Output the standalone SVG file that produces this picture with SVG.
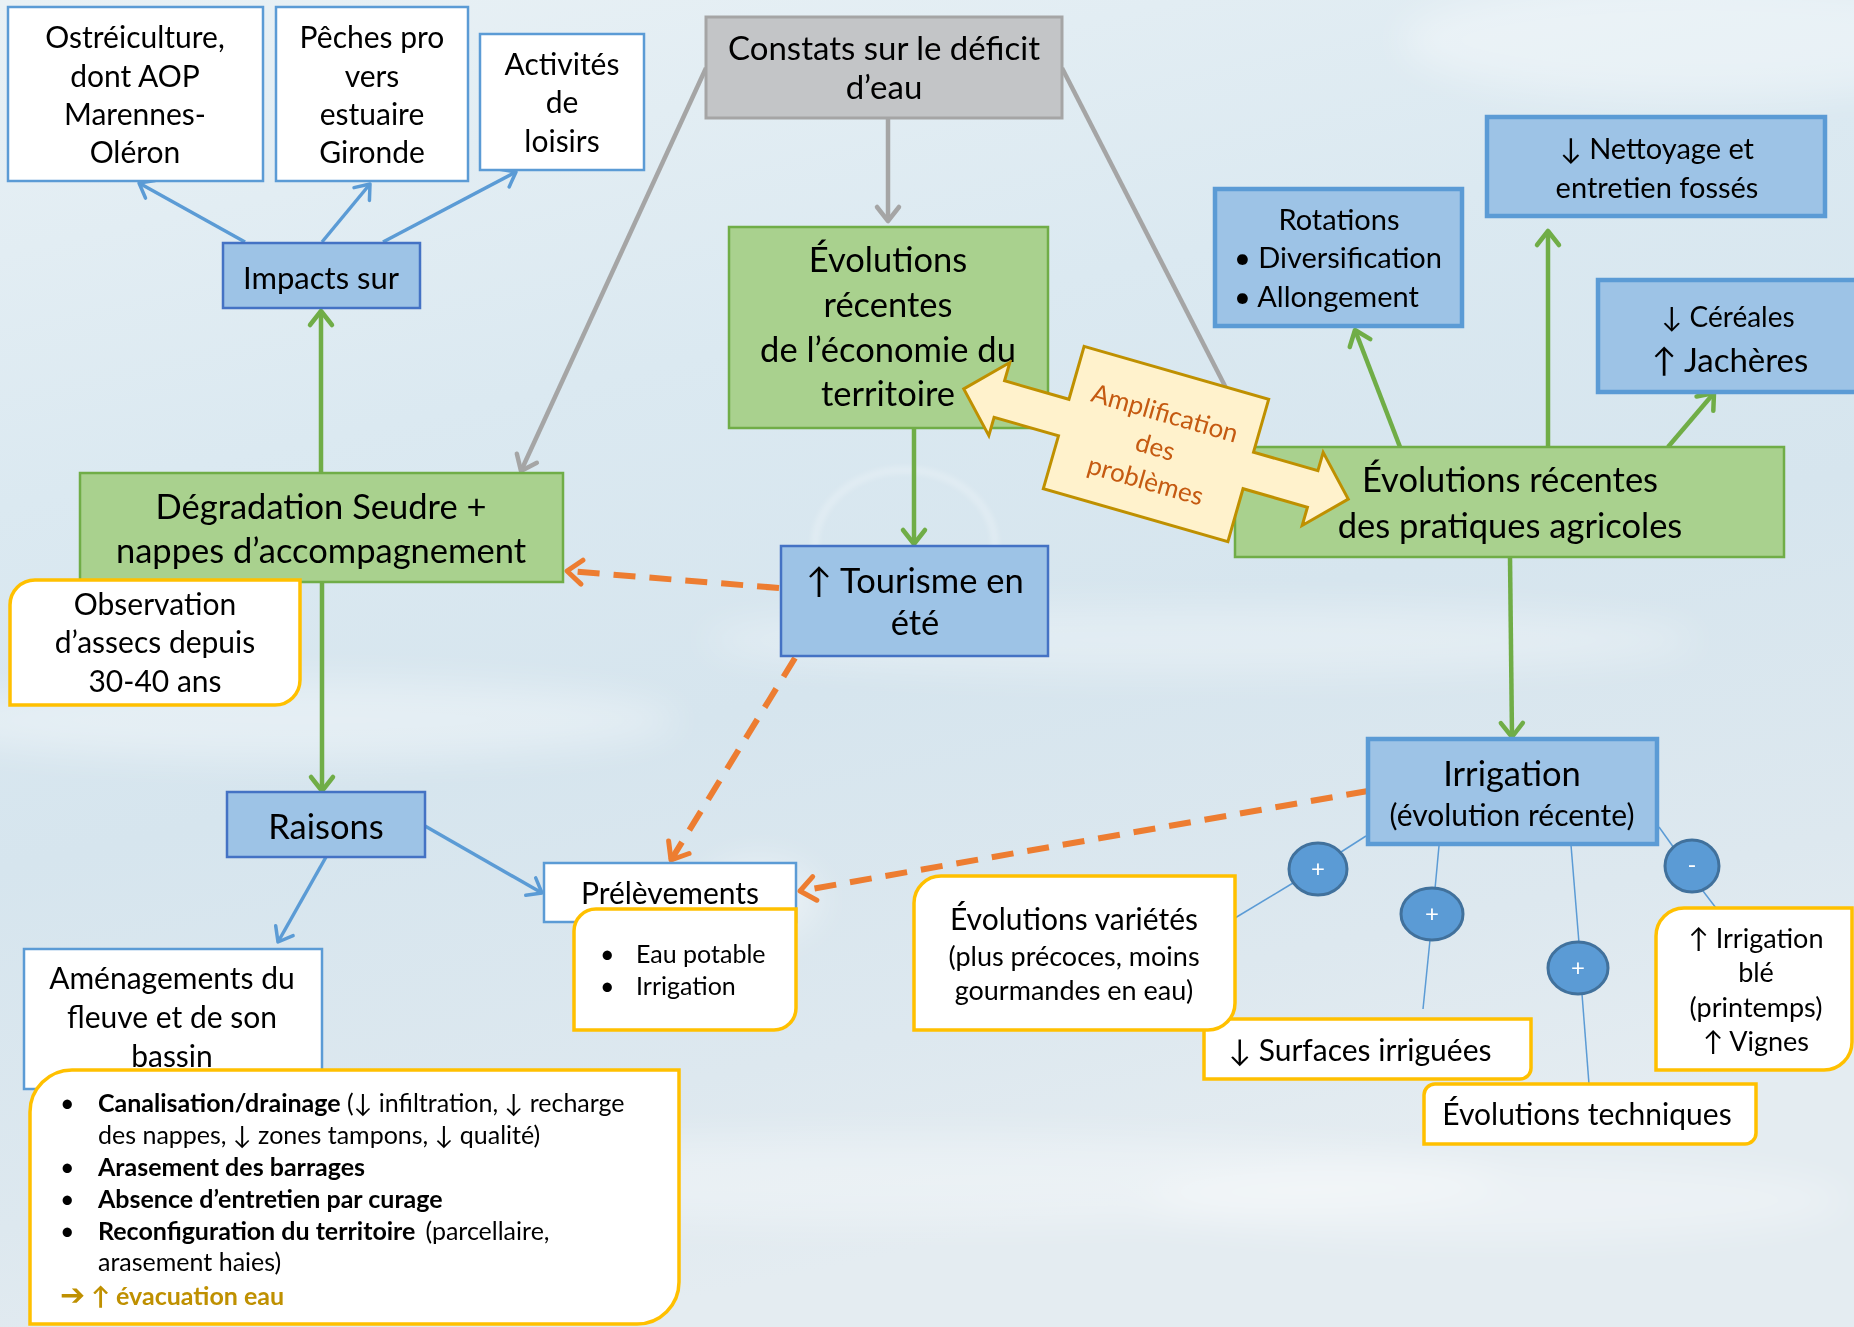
<svg xmlns="http://www.w3.org/2000/svg" width="1854" height="1327" viewBox="0 0 1854 1327">
<defs>
<linearGradient id="bg" x1="0" y1="0" x2="0.3" y2="1">
<stop offset="0" stop-color="#e9f1f5"/>
<stop offset="0.35" stop-color="#dbe9f1"/>
<stop offset="0.6" stop-color="#d6e5ee"/>
<stop offset="0.85" stop-color="#dde8ef"/>
<stop offset="1" stop-color="#e4ecf1"/>
</linearGradient>
<filter id="blur" x="-50%" y="-50%" width="200%" height="200%"><feGaussianBlur stdDeviation="18"/></filter>
<filter id="blur2" x="-50%" y="-50%" width="200%" height="200%"><feGaussianBlur stdDeviation="3"/></filter>
<marker id="ag" viewBox="-20 -16 24 32" refX="0" refY="0" markerWidth="24" markerHeight="32" markerUnits="userSpaceOnUse" orient="auto"><path d="M-14,-11 L0,0 L-14,11" fill="none" stroke="#70ad47" stroke-width="4.5" stroke-linecap="round" stroke-linejoin="round"/></marker>
<marker id="ab" viewBox="-20 -16 24 32" refX="0" refY="0" markerWidth="24" markerHeight="32" markerUnits="userSpaceOnUse" orient="auto"><path d="M-13,-10 L0,0 L-13,10" fill="none" stroke="#5b9bd5" stroke-width="3.5" stroke-linecap="round" stroke-linejoin="round"/></marker>
<marker id="ay" viewBox="-20 -16 24 32" refX="0" refY="0" markerWidth="24" markerHeight="32" markerUnits="userSpaceOnUse" orient="auto"><path d="M-14,-11 L0,0 L-14,11" fill="none" stroke="#a5a5a5" stroke-width="4.5" stroke-linecap="round" stroke-linejoin="round"/></marker>
<marker id="ao" viewBox="-20 -16 24 32" refX="0" refY="0" markerWidth="24" markerHeight="32" markerUnits="userSpaceOnUse" orient="auto"><path d="M-15,-12 L0,0 L-15,12" fill="none" stroke="#ed7d31" stroke-width="5" stroke-linecap="round" stroke-linejoin="round"/></marker>
</defs>
<style>
.t{font-family:Lato,"DejaVu Sans",sans-serif;fill:#000;text-anchor:middle}
.l{text-anchor:start}
.f25{font-size:25px}.f26{font-size:26px}.f27{font-size:27px}.f28{font-size:28px}.f29{font-size:29px}.f30{font-size:30px}.f31{font-size:31px}.f33{font-size:33px}.f34{font-size:34.5px}
.bA{fill:#9dc3e6;stroke:#4472c4;stroke-width:2.5}
.bB{fill:#9dc3e6;stroke:#5b9bd5;stroke-width:4.5}
.gr{fill:#a9d18e;stroke:#70ad47;stroke-width:2.5}
.wb{fill:#fff;stroke:#5b9bd5;stroke-width:2.5}
.yb{fill:#fff;stroke:#ffc000;stroke-width:3.5}
.cg{fill:none;stroke:#70ad47;stroke-width:4.5;marker-end:url(#ag)}
.cb{fill:none;stroke:#5b9bd5;stroke-width:3.5;marker-end:url(#ab)}
.cy{fill:none;stroke:#a5a5a5;stroke-width:4.5}
.co{fill:none;stroke:#ed7d31;stroke-width:6;stroke-dasharray:22 14;marker-end:url(#ao)}
.th{fill:none;stroke:#5b9bd5;stroke-width:1.5}
.ci{fill:#5b9bd5;stroke:#41719c;stroke-width:3}
.ct{font-family:Lato,"DejaVu Sans",sans-serif;fill:#fff;text-anchor:middle;font-size:24px}
</style>
<rect x="0" y="0" width="1854" height="1327" fill="url(#bg)"/>
<g filter="url(#blur)" fill="#ffffff">
<ellipse cx="300" cy="720" rx="380" ry="40" opacity="0.35"/>
<ellipse cx="1200" cy="640" rx="500" ry="35" opacity="0.3"/>
<ellipse cx="900" cy="1180" rx="600" ry="45" opacity="0.3"/>
<ellipse cx="1500" cy="1200" rx="350" ry="40" opacity="0.3"/>
<ellipse cx="760" cy="900" rx="60" ry="40" opacity="0.4"/>
<ellipse cx="1700" cy="40" rx="300" ry="60" opacity="0.35"/>
</g>
<ellipse cx="905" cy="545" rx="90" ry="75" fill="none" stroke="#ffffff" stroke-width="6" opacity="0.3" filter="url(#blur2)"/>

<g id="connectors">
<line class="cb" x1="245" y1="242" x2="139" y2="183"/>
<line class="cb" x1="322" y1="242" x2="370" y2="184"/>
<line class="cb" x1="383" y1="242" x2="516" y2="172"/>
<line class="cb" x1="425" y1="826" x2="542" y2="893"/>
<line class="cb" x1="326" y1="857" x2="278" y2="942"/>
<line class="cg" x1="321" y1="473" x2="321" y2="311"/>
<line class="cg" x1="322" y1="582" x2="322" y2="791"/>
<line class="cg" x1="914" y1="428" x2="914" y2="544"/>
<line class="cg" x1="1400" y1="447" x2="1355" y2="330"/>
<line class="cg" x1="1548" y1="447" x2="1548" y2="231"/>
<line class="cg" x1="1668" y1="447" x2="1714" y2="393"/>
<line class="cg" x1="1510" y1="557" x2="1512" y2="737"/>
<line class="cy" x1="888" y1="118" x2="888" y2="221" marker-end="url(#ay)"/>
<line class="cy" x1="706" y1="68" x2="521" y2="471" marker-end="url(#ay)"/>
<line class="cy" x1="1062" y1="68" x2="1226" y2="388"/>
<line class="co" x1="779" y1="588" x2="567" y2="571"/>
<line class="co" x1="795" y1="658" x2="671" y2="860"/>
<line class="co" x1="1368" y1="791" x2="800" y2="891"/>
<line class="th" x1="1366" y1="836" x2="1341" y2="852"/>
<line class="th" x1="1293" y1="883" x2="1235" y2="918"/>
<line class="th" x1="1440" y1="835" x2="1435" y2="889"/>
<line class="th" x1="1430" y1="940" x2="1423" y2="1009"/>
<line class="th" x1="1571" y1="845" x2="1579" y2="943"/>
<line class="th" x1="1582" y1="994" x2="1589" y2="1084"/>
<line class="th" x1="1659" y1="827" x2="1674" y2="848"/>
<line class="th" x1="1703" y1="891" x2="1716" y2="908"/>
</g>

<g id="ostreiculture">
<rect class="wb" x="8" y="7" width="255" height="174"/>
<text class="t f30" x="135" y="48">Ostréiculture,</text>
<text class="t f30" x="135" y="87">dont AOP</text>
<text class="t f30" x="135" y="125">Marennes-</text>
<text class="t f30" x="135" y="163">Oléron</text>
</g>
<g id="peches">
<rect class="wb" x="276" y="7" width="192" height="174"/>
<text class="t f30" x="372" y="48">Pêches pro</text>
<text class="t f30" x="372" y="87">vers</text>
<text class="t f30" x="372" y="125">estuaire</text>
<text class="t f30" x="372" y="163">Gironde</text>
</g>
<g id="activites">
<rect class="wb" x="480" y="34" width="164" height="136"/>
<text class="t f30" x="562" y="75">Activités</text>
<text class="t f30" x="562" y="113">de</text>
<text class="t f30" x="562" y="152">loisirs</text>
</g>
<g id="impacts">
<rect class="bA" x="223" y="243" width="197" height="65"/>
<text class="t f31" x="321" y="289">Impacts sur</text>
</g>
<g id="constats">
<rect x="706" y="17" width="356" height="101" fill="#c3c5c7" stroke="#a5a5a5" stroke-width="3"/>
<text class="t f33" x="884" y="60">Constats sur le déficit</text>
<text class="t f33" x="884" y="99">d’eau</text>
</g>
<g id="evo-economie">
<rect class="gr" x="729" y="227" width="319" height="201"/>
<text class="t f34" x="888" y="272">Évolutions</text>
<text class="t f34" x="888" y="317">récentes</text>
<text class="t f34" x="888" y="362">de l’économie du</text>
<text class="t f34" x="888" y="406">territoire</text>
</g>
<g id="degradation">
<rect class="gr" x="80" y="473" width="483" height="109"/>
<text class="t f34" x="321" y="519">Dégradation Seudre +</text>
<text class="t f34" x="321" y="563">nappes d’accompagnement</text>
</g>
<g id="observation">
<path class="yb" d="M35,580 H300 V680 A25,25 0 0 1 275,705 H10 V605 A25,25 0 0 1 35,580 Z"/>
<text class="t f30" x="155" y="615">Observation</text>
<text class="t f30" x="155" y="653">d’assecs depuis</text>
<text class="t f30" x="155" y="692">30-40 ans</text>
</g>
<g id="tourisme">
<rect class="bA" x="781" y="546" width="267" height="110"/>
<text class="t f34" x="915" y="593">↑ Tourisme en</text>
<text class="t f34" x="915" y="635">été</text>
</g>
<g id="raisons">
<rect class="bA" x="227" y="792" width="198" height="65"/>
<text class="t f34" x="326" y="839">Raisons</text>
</g>
<g id="amenagements">
<rect class="wb" x="24" y="949" width="298" height="140"/>
<text class="t f30" x="172" y="989">Aménagements du</text>
<text class="t f30" x="172" y="1028">fleuve et de son</text>
<text class="t f30" x="172" y="1067">bassin</text>
</g>
<g id="raisons-liste">
<path class="yb" d="M72,1070 H679 V1282 A42,42 0 0 1 637,1324 H30 V1112 A42,42 0 0 1 72,1070 Z"/>
<text class="t l f25" x="60" y="1112">•</text>
<text class="t l f25" x="98" y="1112"><tspan font-weight="bold">Canalisation/drainage</tspan> (↓ infiltration, ↓ recharge</text>
<text class="t l f25" x="98" y="1144">des nappes, ↓ zones tampons, ↓ qualité)</text>
<text class="t l f25" x="60" y="1176">•</text>
<text class="t l f25" x="98" y="1176" font-weight="bold">Arasement des barrages</text>
<text class="t l f25" x="60" y="1208">•</text>
<text class="t l f25" x="98" y="1208" font-weight="bold">Absence d’entretien par curage</text>
<text class="t l f25" x="60" y="1240">•</text>
<text class="t l f25" x="98" y="1240"><tspan font-weight="bold">Reconfiguration du territoire</tspan><tspan dx="10">(parcellaire,</tspan></text>
<text class="t l f25" x="98" y="1271">arasement haies)</text>
<text class="t l f25" x="60" y="1305" font-weight="bold" style="fill:#bf9000"><tspan font-size="30px">➔</tspan> ↑ évacuation eau</text>
</g>
<g id="prelevements">
<rect class="wb" x="544" y="863" width="252" height="59"/>
<text class="t f30" x="670" y="904">Prélèvements</text>
<path class="yb" d="M596,909 H796 V1008 A22,22 0 0 1 774,1030 H574 V931 A22,22 0 0 1 596,909 Z"/>
<text class="t l f25" x="600" y="963">•</text>
<text class="t l f25" x="636" y="963">Eau potable</text>
<text class="t l f25" x="600" y="995">•</text>
<text class="t l f25" x="636" y="995">Irrigation</text>
</g>
<g id="rotations">
<rect class="bB" x="1215" y="189" width="247" height="137"/>
<text class="t f29" x="1339" y="230">Rotations</text>
<text class="t l f29" x="1234" y="268">• Diversification</text>
<text class="t l f29" x="1234" y="307">• Allongement</text>
</g>
<g id="nettoyage">
<rect class="bB" x="1487" y="117" width="338" height="99"/>
<text class="t f29" x="1657" y="159">↓ Nettoyage et</text>
<text class="t f29" x="1657" y="198">entretien fossés</text>
</g>
<g id="cereales">
<rect class="bB" x="1598" y="280" width="262" height="112"/>
<text class="t f28" x="1728" y="327">↓ Céréales</text>
<text class="t f33" x="1730" y="372">↑ Jachères</text>
</g>
<g id="evo-pratiques">
<rect class="gr" x="1235" y="447" width="549" height="110"/>
<text class="t f34" x="1510" y="492">Évolutions récentes</text>
<text class="t f34" x="1510" y="538">des pratiques agricoles</text>
</g>
<g id="irrigation">
<rect class="bB" x="1368" y="739" width="289" height="105"/>
<text class="t f34" x="1512" y="786">Irrigation</text>
<text class="t f30" x="1512" y="826">(évolution récente)</text>
</g>
<g id="surfaces">
<path class="yb" d="M1204,1019 H1531 V1068 A11,11 0 0 1 1520,1079 H1204 Z"/>
<text class="t f30" x="1360" y="1061">↓ Surfaces irriguées</text>
</g>
<g id="varietes">
<path class="yb" d="M941,876 H1235 V1003 A27,27 0 0 1 1208,1030 H914 V903 A27,27 0 0 1 941,876 Z"/>
<text class="t f30" x="1074" y="930">Évolutions variétés</text>
<text class="t f27" x="1074" y="966">(plus précoces, moins</text>
<text class="t f27" x="1074" y="1000">gourmandes en eau)</text>
</g>
<g id="techniques">
<path class="yb" d="M1435,1084 H1756 V1133 A11,11 0 0 1 1745,1144 H1424 V1095 A11,11 0 0 1 1435,1084 Z"/>
<text class="t f30" x="1587" y="1125">Évolutions techniques</text>
</g>
<g id="irrigation-ble">
<path class="yb" d="M1684,908 H1852 V1042 A28,28 0 0 1 1824,1070 H1656 V936 A28,28 0 0 1 1684,908 Z"/>
<text class="t f27" x="1756" y="948">↑ Irrigation</text>
<text class="t f27" x="1756" y="982">blé</text>
<text class="t f27" x="1756" y="1017">(printemps)</text>
<text class="t f27" x="1756" y="1051">↑ Vignes</text>
</g>
<g id="signe-1">
<ellipse class="ci" cx="1318" cy="869" rx="29" ry="26"/>
<text class="ct" x="1318" y="877">+</text>
</g>
<g id="signe-2">
<ellipse class="ci" cx="1432" cy="914" rx="31" ry="26"/>
<text class="ct" x="1432" y="922">+</text>
</g>
<g id="signe-3">
<ellipse class="ci" cx="1578" cy="968" rx="30" ry="26"/>
<text class="ct" x="1578" y="976">+</text>
</g>
<g id="signe-4">
<ellipse class="ci" cx="1692" cy="866" rx="27" ry="26"/>
<text class="ct" x="1692" y="873">-</text>
</g>
<g id="amplification" transform="translate(1156,444) rotate(16)">
<path d="M-96,-74 L96,-74 L96,-19 L163,-19 L163,-38 L200,0 L163,38 L163,19 L96,19 L96,74 L-96,74 L-96,19 L-163,19 L-163,38 L-200,0 L-163,-38 L-163,-19 L-96,-19 Z" fill="#fff2cc" stroke="#bf9000" stroke-width="3"/>
<text class="t f26" x="0" y="-23" style="fill:#c55a11">Amplification</text>
<text class="t f26" x="0" y="12" style="fill:#c55a11">des</text>
<text class="t f26" x="0" y="47" style="fill:#c55a11">problèmes</text>
</g>
</svg>
